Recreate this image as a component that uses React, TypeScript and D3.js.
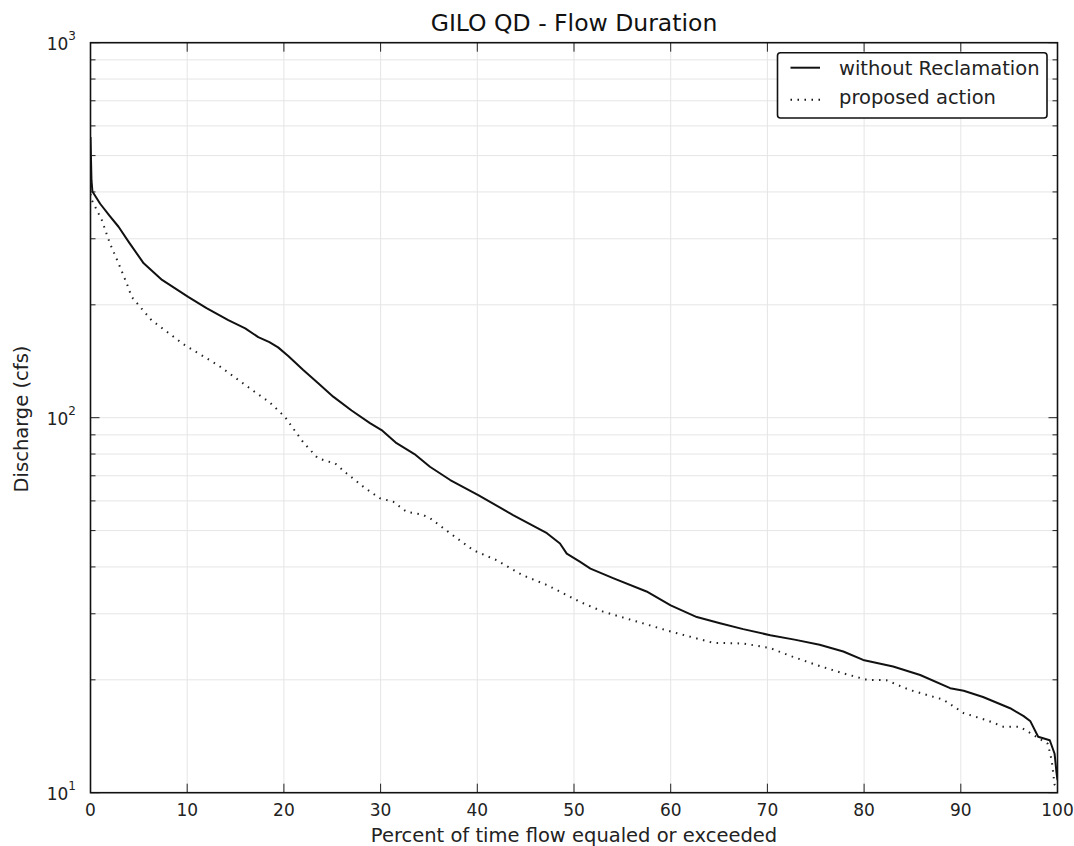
import React from "react";
import * as d3 from "d3";

const pctWithout = [0, 0.1, 0.2, 1, 2, 2.9, 4, 5.5, 7.4, 10.1, 12, 14.25, 16, 17.35, 18.5, 19.4, 20.45, 22, 23.55, 25.1, 27, 28.9, 30.1, 31.65, 33.5, 35.1, 37.2, 40.1, 43.7, 47.2, 48.55, 49.25, 50.6, 51.7, 54.1, 57.5, 60, 62.7, 65.1, 67.5, 70.3, 72.8, 75.4, 77.85, 79.9, 83, 85.8, 88.9, 90.3, 92.3, 95.1, 96.5, 97.2, 98, 99.2, 99.7, 99.9, 100];
const qWithout = [560, 430, 401, 372, 345, 323, 293, 258, 233, 210, 196, 182, 173, 164, 159, 154, 146, 134, 123.6, 113.8, 104.5, 96.7, 92.7, 85.5, 80, 74, 68.2, 62.2, 55, 49.2, 46.2, 43.4, 41.3, 39.6, 37.3, 34.4, 31.6, 29.4, 28.3, 27.3, 26.3, 25.6, 24.8, 23.8, 22.6, 21.7, 20.6, 19, 18.7, 18.0, 16.8, 16.0, 15.5, 14.1, 13.8, 12.7, 11.3, 10.8];

const pctProposed = [0, 0.12, 1.16, 2.0, 2.9, 3.75, 4.26, 6.3, 9.77, 13.2, 16.7, 18.5, 20.1, 20.95, 22, 23.5, 24.5, 25.3, 26.5, 28.2, 29.9, 31.3, 32.7, 34.25, 35.1, 37, 39.6, 42, 44.7, 47.2, 50.6, 53, 56.5, 60, 64.4, 67.5, 70.3, 72.5, 75.1, 77.85, 80.3, 82.3, 84.7, 88.2, 90.3, 92.7, 94.4, 96.1, 97.8, 99, 99.4, 99.7, 100];
const qProposed = [395, 381, 337, 292, 258, 228, 210, 182, 156, 138, 118.6, 110, 100.6, 93.7, 86, 78, 76.5, 75.5, 71, 65.5, 61, 59.7, 56.1, 55.2, 54, 49.6, 44.3, 41.7, 38, 35.8, 32.3, 30.4, 28.6, 26.9, 25.1, 25, 24.3, 23.1, 21.9, 20.8, 20, 19.95, 18.8, 17.7, 16.3, 15.6, 15.0, 15.0, 14.1, 13.5, 12.2, 10.5, 10.2];

const xTicks = [0, 10, 20, 30, 40, 50, 60, 70, 80, 90, 100];
const yMajor = [10, 100, 1000];
const yMinor = [20, 30, 40, 50, 60, 70, 80, 90, 200, 300, 400, 500, 600, 700, 800, 900];
const seriesNames = ["without Reclamation", "proposed action"];
const title = "GILO QD - Flow Duration";
const xLabel = "Percent of time flow equaled or exceeded";
const yLabel = "Discharge (cfs)";

const W = 1074, H = 846;
const L = 90.5, R = 1057.5, T = 42.7, B = 792.7;
const FONT = "DejaVu Sans, sans-serif";

export default function App() {
  const x = d3.scaleLinear().domain([0, 100]).range([L, R]);
  const y = d3.scaleLog().domain([10, 1000]).range([B, T]);
  const line = d3.line<[number, number]>().x(d => x(d[0])).y(d => y(d[1]));
  const dWithout = line(pctWithout.map((p, i) => [p, qWithout[i]]));
  const dProposed = line(pctProposed.map((p, i) => [p, qProposed[i]]));
  const grid = "#e5e5e5";
  return (
    <svg width={W} height={H} style={{ position: "absolute", left: 0, top: 0, background: "#fff" }} fontFamily={FONT}>
      <rect x={0} y={0} width={W} height={H} fill="#fff" />
      {xTicks.slice(1, -1).map(t => (
        <line key={"gx" + t} x1={x(t)} x2={x(t)} y1={T} y2={B} stroke={grid} strokeWidth={1} />
      ))}
      {[...yMinor, 100].map(t => (
        <line key={"gy" + t} x1={L} x2={R} y1={y(t)} y2={y(t)} stroke={grid} strokeWidth={1} />
      ))}
      <defs>
        <clipPath id="clip"><rect x={L} y={T} width={R - L} height={B - T} /></clipPath>
      </defs>
      <g clipPath="url(#clip)">
        <path d={dProposed || ""} fill="none" stroke="#222" strokeWidth={2} strokeDasharray="1.5,5.5" />
        <path d={dWithout || ""} fill="none" stroke="#111" strokeWidth={2} strokeLinejoin="round" />
      </g>
      {xTicks.map(t => (
        <g key={"xt" + t}>
          <line x1={x(t)} x2={x(t)} y1={B} y2={B - 9} stroke="#222" strokeWidth={1} />
          <line x1={x(t)} x2={x(t)} y1={T} y2={T + 9} stroke="#222" strokeWidth={1} />
          <text x={x(t)} y={B + 23} textAnchor="middle" fontSize={17} fill="#222">{t}</text>
        </g>
      ))}
      {yMinor.map(t => (
        <g key={"ym" + t}>
          <line x1={L} x2={L + 5} y1={y(t)} y2={y(t)} stroke="#222" strokeWidth={1} />
          <line x1={R} x2={R - 5} y1={y(t)} y2={y(t)} stroke="#222" strokeWidth={1} />
        </g>
      ))}
      {yMajor.map(t => (
        <g key={"yM" + t}>
          <line x1={L} x2={L + 9} y1={y(t)} y2={y(t)} stroke="#222" strokeWidth={1} />
          <line x1={R} x2={R - 9} y1={y(t)} y2={y(t)} stroke="#222" strokeWidth={1} />
          <text x={L - 14.5} y={y(t) + 7.5} textAnchor="end" fontSize={17} fill="#222">
            10<tspan dy={-10} fontSize={12}>{Math.round(Math.log10(t))}</tspan>
          </text>
        </g>
      ))}
      <rect x={L} y={T} width={R - L} height={B - T} fill="none" stroke="#111" strokeWidth={1.6} />
      <text x={(L + R) / 2} y={30.5} textAnchor="middle" fontSize={23.5} fill="#111">{title}</text>
      <text x={(L + R) / 2} y={841.5} textAnchor="middle" fontSize={19.5} fill="#222">{xLabel}</text>
      <text transform={`translate(28,419) rotate(-90)`} textAnchor="middle" fontSize={19.5} fill="#222">{yLabel}</text>
      <g>
        <rect x={777.5} y={52.7} width={269.5} height={65.3} rx={3} fill="#fff" stroke="#111" strokeWidth={1.6} />
        {seriesNames.map((n, i) => (
          <g key={n}>
            <line x1={790.5} x2={820} y1={67.7 + i * 32} y2={67.7 + i * 32} stroke="#111" strokeWidth={2}
              strokeDasharray={i === 1 ? "1.5,5.5" : undefined} />
            <text x={839} y={75 + i * 29} fontSize={19.5} fill="#222">{n}</text>
          </g>
        ))}
      </g>
    </svg>
  );
}
